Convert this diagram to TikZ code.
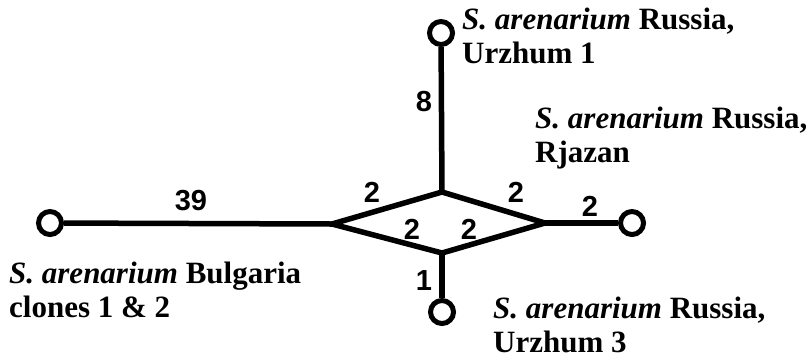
\documentclass[tikz,border=0pt]{standalone}
\usepackage{fontspec}
\setmainfont{Liberation Serif}
\newfontfamily\numfont{Liberation Sans}
\begin{document}
\begin{tikzpicture}[x=1pt,y=-1pt,
  edge/.style={line width=5.5pt},
  tip/.style={circle,draw,line width=5pt,minimum size=23pt,inner sep=0pt,fill=white},
  num/.style={font=\numfont\bfseries\fontsize{29}{29}\selectfont,inner sep=0pt},
  lab/.style={font=\bfseries\fontsize{31}{34}\selectfont,align=left,anchor=base west,inner sep=0pt}]
\useasboundingbox (0,0) rectangle (811,360);
\coordinate (L) at (332,224);
\coordinate (T) at (442,192);
\coordinate (R) at (545,223);
\coordinate (B) at (442,253);
\node[tip] (c1) at (50,223) {};
\node[tip] (c2) at (441,33) {};
\node[tip] (c3) at (632,223) {};
\node[tip] (c4) at (442,312) {};
\draw[edge,line join=miter] (L) -- (T) -- (R) -- (B) -- cycle;
\draw[edge] (c1) -- (L);
\draw[edge] (c2) -- (T);
\draw[edge] (c3) -- (R);
\draw[edge] (c4) -- (B);
\node[num] (n39) at (191,201) {39};
\node[num] (n8) at (424,102) {8};
\node[num] (n2a) at (372,192) {2};
\node[num] (n2b) at (516,192) {2};
\node[num] (n2c) at (590,206) {2};
\node[num] (n2d) at (412,229) {2};
\node[num] (n2e) at (469,229) {2};
\node[num] (n1) at (424,281) {1};
\node[lab] (l1) at (462,63) {\textit{S. arenarium} Russia,\\Urzhum 1};
\node[lab] (l2) at (535,162) {\textit{S. arenarium} Russia,\\Rjazan};
\node[lab] (l3) at (9,317) {\textit{S. arenarium} Bulgaria\\clones 1 \& 2};
\node[lab] (l4) at (493,352) {\textit{S. arenarium} Russia,\\Urzhum 3};
\end{tikzpicture}
\end{document}
